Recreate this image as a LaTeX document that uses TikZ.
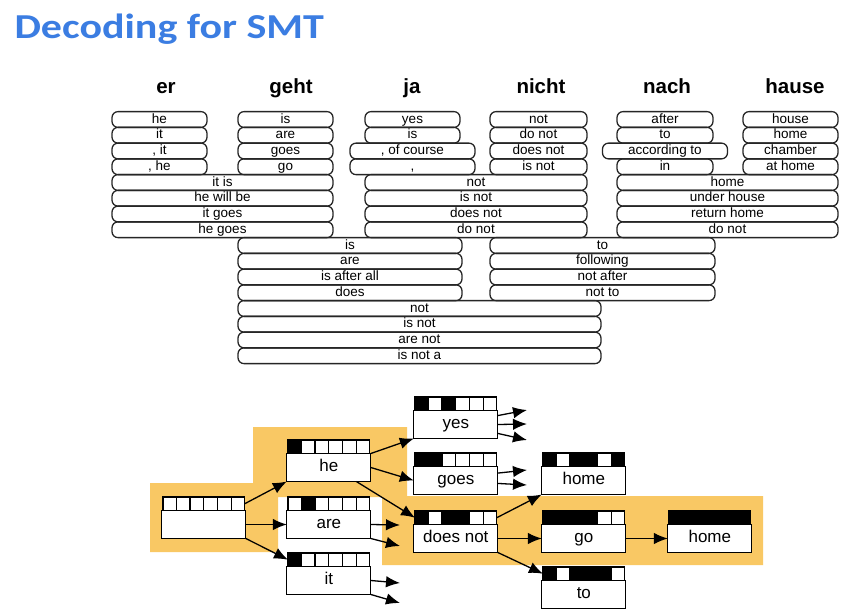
\documentclass[tikz,border=0pt]{standalone}
\usepackage{fontspec}
\setmainfont{Liberation Sans}
\newfontfamily\titlefont[FakeStretch=1.2]{Carlito}
\usepackage{xcolor}
\usepackage{tikz}
\usetikzlibrary{positioning,arrows.meta,shapes.multipart}
\definecolor{titleblue}{RGB}{59,125,226}
\definecolor{pathyellow}{RGB}{249,200,100}

\begin{document}
\begin{tikzpicture}[
x=1pt, y=-1pt,
wordnode/.style={font=\fontsize{20.5}{20.5}\selectfont\bfseries, anchor=base},
pillnode/.style={rectangle, draw=black!85, line width=1.3pt, rounded corners=6pt, minimum height=15.75pt, text height=9.5pt, text depth=2.5pt, inner sep=0pt, outer sep=0pt, font=\fontsize{13.5}{13.5}\selectfont},
covnode/.style={rectangle split, rectangle split horizontal, rectangle split parts=6, inner sep=0pt, rectangle split empty part width=7.33pt, rectangle split empty part height=13.5pt, rectangle split empty part depth=0pt, draw, line width=1.2pt, outer sep=0pt, anchor=north west},
hypnode/.style={rectangle, draw, fill=white, line width=1.2pt, minimum width=84pt, minimum height=28pt, text height=12pt, text depth=3.5pt, inner sep=0pt, outer sep=0pt, font=\fontsize{17}{17}\selectfont},
arrowline/.style={-{Latex[length=14pt,width=11.5pt]}, line width=1.3pt},
]
\fill[white] (0,0) rectangle (844,613);
\useasboundingbox (0,0) rectangle (844,613);

%Title
\node[anchor=base west, text=titleblue, font=\titlefont\fontsize{35}{35}\selectfont\bfseries] (title) at (11,38) {Decoding for SMT};

%Source words
\node[wordnode] (w-er)    at (166,93) {er};
\node[wordnode] (w-geht)  at (291,93) {geht};
\node[wordnode] (w-ja)    at (412,93) {ja};
\node[wordnode] (w-nicht) at (541,93) {nicht};
\node[wordnode] (w-nach)  at (667,93) {nach};
\node[wordnode] (w-hause) at (795,93) {hause};

%Phrase options, one word
\node[pillnode, minimum width=95pt]  (er1)   at (159.5,119.5) {he};
\node[pillnode, minimum width=95pt]  (er2)   [below=0pt of er1]   {it};
\node[pillnode, minimum width=95pt]  (er3)   [below=0pt of er2]   {, it};
\node[pillnode, minimum width=95pt]  (er4)   [below=0pt of er3]   {, he};

\node[pillnode, minimum width=95pt]  (geht1) at (285.5,119.5) {is};
\node[pillnode, minimum width=95pt]  (geht2) [below=0pt of geht1] {are};
\node[pillnode, minimum width=95pt]  (geht3) [below=0pt of geht2] {goes};
\node[pillnode, minimum width=95pt]  (geht4) [below=0pt of geht3] {go};

\node[pillnode, minimum width=95pt]  (ja1)   at (412.5,119.5) {yes};
\node[pillnode, minimum width=95pt]  (ja2)   [below=0pt of ja1]   {is};
\node[pillnode, minimum width=125pt] (ja3)   [below=0pt of ja2]   {, of course};
\node[pillnode, minimum width=125pt] (ja4)   [below=0pt of ja3]   {,};

\node[pillnode, minimum width=97pt]  (nicht1) at (538.5,119.5) {not};
\node[pillnode, minimum width=97pt]  (nicht2) [below=0pt of nicht1] {do not};
\node[pillnode, minimum width=97pt]  (nicht3) [below=0pt of nicht2] {does not};
\node[pillnode, minimum width=97pt]  (nicht4) [below=0pt of nicht3] {is not};

\node[pillnode, minimum width=96pt]  (nach1) at (665,119.5) {after};
\node[pillnode, minimum width=96pt]  (nach2) [below=0pt of nach1] {to};
\node[pillnode, minimum width=125pt] (nach3) [below=0pt of nach2] {according to};
\node[pillnode, minimum width=96pt]  (nach4) [below=0pt of nach3] {in};

\node[pillnode, minimum width=95pt]  (hause1) at (790.5,119.5) {house};
\node[pillnode, minimum width=95pt]  (hause2) [below=0pt of hause1] {home};
\node[pillnode, minimum width=95pt]  (hause3) [below=0pt of hause2] {chamber};
\node[pillnode, minimum width=95pt]  (hause4) [below=0pt of hause3] {at home};

%Phrase options, two words
\node[pillnode, minimum width=221pt] (ergeht1) at (222.5,182.5) {it is};
\node[pillnode, minimum width=221pt] (ergeht2) [below=0pt of ergeht1] {he will be};
\node[pillnode, minimum width=221pt] (ergeht3) [below=0pt of ergeht2] {it goes};
\node[pillnode, minimum width=221pt] (ergeht4) [below=0pt of ergeht3] {he goes};

\node[pillnode, minimum width=222pt] (janicht1) at (476,182.5) {not};
\node[pillnode, minimum width=222pt] (janicht2) [below=0pt of janicht1] {is not};
\node[pillnode, minimum width=222pt] (janicht3) [below=0pt of janicht2] {does not};
\node[pillnode, minimum width=222pt] (janicht4) [below=0pt of janicht3] {do not};

\node[pillnode, minimum width=221pt] (nachhause1) at (727.5,182.5) {home};
\node[pillnode, minimum width=221pt] (nachhause2) [below=0pt of nachhause1] {under house};
\node[pillnode, minimum width=221pt] (nachhause3) [below=0pt of nachhause2] {return home};
\node[pillnode, minimum width=221pt] (nachhause4) [below=0pt of nachhause3] {do not};

\node[pillnode, minimum width=224pt] (gehtja1) at (350,245.5) {is};
\node[pillnode, minimum width=224pt] (gehtja2) [below=0pt of gehtja1] {are};
\node[pillnode, minimum width=224pt] (gehtja3) [below=0pt of gehtja2] {is after all};
\node[pillnode, minimum width=224pt] (gehtja4) [below=0pt of gehtja3] {does};

\node[pillnode, minimum width=225pt] (nichtnach1) at (602.5,245.5) {to};
\node[pillnode, minimum width=225pt] (nichtnach2) [below=0pt of nichtnach1] {following};
\node[pillnode, minimum width=225pt] (nichtnach3) [below=0pt of nichtnach2] {not after};
\node[pillnode, minimum width=225pt] (nichtnach4) [below=0pt of nichtnach3] {not to};

%Phrase options, three words
\node[pillnode, minimum width=363pt] (gehtjanicht1) at (419.5,308.5) {not};
\node[pillnode, minimum width=363pt] (gehtjanicht2) [below=0pt of gehtjanicht1] {is not};
\node[pillnode, minimum width=363pt] (gehtjanicht3) [below=0pt of gehtjanicht2] {are not};
\node[pillnode, minimum width=363pt] (gehtjanicht4) [below=0pt of gehtjanicht3] {is not a};

%Best path
\fill[pathyellow] (150,483) -- (253,483) -- (253,427) -- (407,427) -- (407,496) -- (763,496)
  -- (763,565) -- (382,565) -- (382,497) -- (278,497) -- (278,552) -- (150,552) -- cycle;

%Hypotheses
\node[covnode, rectangle split part fill={white,white,white,white,white,white}] (cov-start) at (163,497) {};
\node[hypnode] (hyp-start) [below=0pt of cov-start] {};

\node[covnode, rectangle split part fill={black,white,white,white,white,white}] (cov-he) at (288,440) {};
\node[hypnode] (hyp-he) [below=0pt of cov-he] {he};
\node[covnode, rectangle split part fill={white,black,white,white,white,white}] (cov-are) at (288,497) {};
\node[hypnode] (hyp-are) [below=0pt of cov-are] {are};
\node[covnode, rectangle split part fill={black,white,white,white,white,white}] (cov-it) at (288,553) {};
\node[hypnode] (hyp-it) [below=0pt of cov-it] {it};

\node[covnode, rectangle split part fill={black,white,black,white,white,white}] (cov-yes) at (415,397) {};
\node[hypnode] (hyp-yes) [below=0pt of cov-yes] {yes};
\node[covnode, rectangle split part fill={black,black,white,white,white,white}] (cov-goes) at (415,453) {};
\node[hypnode] (hyp-goes) [below=0pt of cov-goes] {goes};
\node[covnode, rectangle split part fill={black,white,black,black,white,white}] (cov-does) at (415,511) {};
\node[hypnode] (hyp-does) [below=0pt of cov-does] {does not};

\node[covnode, rectangle split part fill={black,white,black,black,white,black}] (cov-home) at (543,453) {};
\node[hypnode] (hyp-home) [below=0pt of cov-home] {home};
\node[covnode, rectangle split part fill={black,black,black,black,white,white}] (cov-go) at (543,511) {};
\node[hypnode] (hyp-go) [below=0pt of cov-go] {go};
\node[covnode, rectangle split part fill={black,white,black,black,black,white}] (cov-to) at (543,567) {};
\node[hypnode] (hyp-to) [below=0pt of cov-to] {to};

\node[covnode, rectangle split part fill={black,black,black,black,black,black}] (cov-final) at (669,511) {};
\node[hypnode] (hyp-final) [below=0pt of cov-final] {home};

%Open ends
\coordinate (are-out1) at (400,525);
\coordinate (are-out2) at (400,546);
\coordinate (it-out1) at (400,583);
\coordinate (it-out2) at (400,603);
\coordinate (yes-out1) at (527,410);
\coordinate (yes-out2) at (527,424);
\coordinate (yes-out3) at (527,440);
\coordinate (goes-out1) at (527,470);
\coordinate (goes-out2) at (527,485);

%Lines
\draw[arrowline] (cov-start.east) -- (hyp-he.south west);
\draw[arrowline] (hyp-start.east) -- (hyp-are.west);
\draw[arrowline] (hyp-start.south east) -- (cov-it.west);
\draw[arrowline] (hyp-he.north east) -- (hyp-yes.south west);
\draw[arrowline] (hyp-he.east) -- (hyp-goes.west);
\draw[arrowline] (hyp-he.-27) -- (cov-does.west);
\draw[arrowline] (hyp-are.east) -- (are-out1);
\draw[arrowline] (hyp-are.south east) -- (are-out2);
\draw[arrowline] (hyp-it.east) -- (it-out1);
\draw[arrowline] (hyp-it.south east) -- (it-out2);
\draw[arrowline] (hyp-yes.12) -- (yes-out1);
\draw[arrowline] (hyp-yes.east) -- (yes-out2);
\draw[arrowline] (hyp-yes.-12) -- (yes-out3);
\draw[arrowline] (hyp-goes.10) -- (goes-out1);
\draw[arrowline] (hyp-goes.-4) -- (goes-out2);
\draw[arrowline] (cov-does.east) -- (hyp-home.south west);
\draw[arrowline] (hyp-does.east) -- (hyp-go.west);
\draw[arrowline] (hyp-does.south east) -- (cov-to.west);
\draw[arrowline] (hyp-go.east) -- (hyp-final.west);
\end{tikzpicture}
\end{document}
